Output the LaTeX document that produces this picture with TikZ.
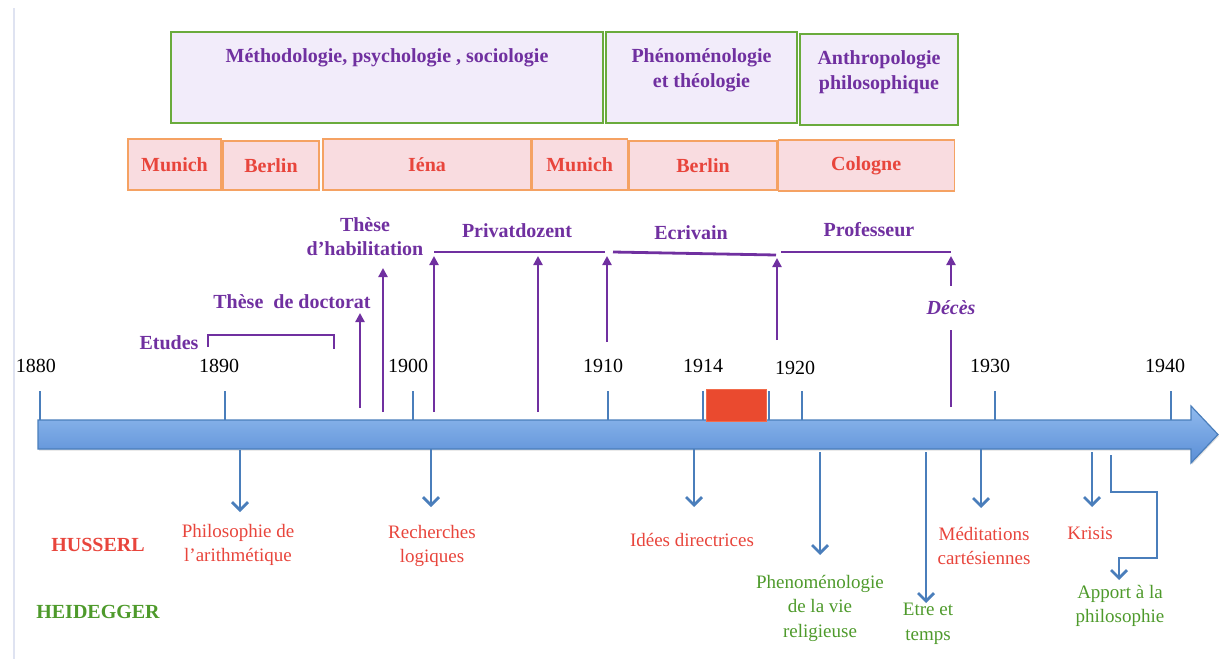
\documentclass[tikz,border=0pt]{standalone}
\usepackage{fontspec}
\setmainfont{Liberation Serif}
\usetikzlibrary{arrows.meta,shadows,positioning}

\definecolor{violetH}{HTML}{7030A0}
\definecolor{rougeH}{HTML}{E8453C}
\definecolor{vertH}{HTML}{4E9A2B}
\definecolor{bleuH}{HTML}{4A7EBB}
\definecolor{bordvert}{HTML}{6AAB3C}
\definecolor{fondvio}{HTML}{F2ECFA}
\definecolor{fondrose}{HTML}{F9DCE0}
\definecolor{bordorange}{HTML}{F5A263}
\definecolor{barhaut}{HTML}{90BAEE}
\definecolor{barbas}{HTML}{5A8ED6}
\definecolor{guerreH}{HTML}{EA4A2F}

\begin{document}
\begin{tikzpicture}[x=1pt,y=-1pt,
theme/.style={draw=bordvert, line width=1.5pt, fill=fondvio, inner sep=0pt, minimum height=91pt},
sujet/.style={anchor=north, yshift=-17pt, inner sep=0pt, align=center, text=violetH, font=\fontsize{20}{25}\selectfont\bfseries},
ville/.style={draw=bordorange, line width=1.2pt, fill=fondrose, inner sep=0pt, text=rougeH, font=\fontsize{20}{24}\selectfont\bfseries},
annee/.style={font=\fontsize{20}{24}\selectfont},
etape/.style={text=violetH, align=center, font=\fontsize{20}{24}\selectfont\bfseries},
oeuvreH/.style={text=rougeH, align=center, font=\fontsize{19}{24.5}\selectfont},
oeuvreG/.style={text=vertH, align=center, font=\fontsize{19}{24.5}\selectfont},
trait/.style={violetH, line width=2.8pt},
fleche/.style={trait, -{Triangle[length=9pt,width=9pt]}},
descend/.style={bleuH, line width=2.8pt, -{Straight Barb[length=8pt,width=16pt]}}]
\useasboundingbox (0,0) rectangle (1221,659);
\draw[color={rgb,255:red,223;green,227;blue,241}, line width=2.5pt] (14,8) -- (14,659);

% domaines
\node[theme, minimum width=432pt, label={[sujet]north:{Méthodologie, psychologie , sociologie}}] (methodo) at (387,77.5) {};
\node[theme, minimum width=191pt, label={[sujet]north:{Phénoménologie\\et théologie}}] (theo) at (701.5,77.5) {};
\node[theme, minimum width=158pt, label={[sujet]north:{Anthropologie\\philosophique}}] (anthropo) at (879,79.5) {};

% villes
\node[ville, minimum width=93pt, minimum height=51pt] (munich) at (174.5,164.5) {Munich};
\node[ville, minimum width=96pt, minimum height=49pt] (berlin) at (271,165.5) {Berlin};
\node[ville, minimum width=208pt, minimum height=51pt] (iena) at (427,164.5) {Iéna};
\node[ville, minimum width=95pt, minimum height=51pt, right=0pt of iena] (munichb) {Munich};
\node[ville, minimum width=148pt, minimum height=49pt] (berlinb) at (703,165.5) {Berlin};
\node[ville, minimum width=176pt, minimum height=51pt, right=0pt of berlinb] (cologne) {Cologne};

% axe du temps
\foreach \x in {40,225,413,608,703,769,802,995,1171}
  \draw[bleuH, line width=2.5pt] (\x,391) -- (\x,420);
\draw[bleuH, line width=1.2pt, top color=barhaut, bottom color=barbas,
  drop shadow={opacity=0.25, shadow xshift=1pt, shadow yshift=-1.5pt}]
  (38,420) -- (1191,420) -- (1191,406) -- (1218,434.5) -- (1191,463) -- (1191,449) -- (38,449) -- cycle;
\node[draw={rgb,255:red,242;green,107;blue,75}, fill=guerreH, minimum width=60pt, minimum height=32pt, inner sep=0pt] (guerre) at (736,405) {};
\foreach \x/\an in {36/1880,219/1890,408/1900,603/1910,703/1914,990/1930,1165/1940}
  \node[annee] (an\an) at (\x,366) {\an};
\node[annee] (an1920) at (795,368) {1920};

% carriere
\node[etape] (etudes) at (169,343) {Etudes};
\node[etape] (doctorat) at (292,302) {Thèse~ de doctorat};
\node[etape] (habil) at (365,237) {Thèse\\d’habilitation};
\node[etape] (privat) at (517,231) {Privatdozent};
\node[etape] (ecrivain) at (691,233) {Ecrivain};
\node[etape] (prof) at (869,230) {Professeur};
\node[etape, font=\fontsize{20}{24}\selectfont\bfseries\itshape, inner sep=15pt] (deces) at (951,308) {Décès};

\coordinate (e1) at (208,347); \coordinate (e2) at (208,335);
\coordinate (e3) at (334,335); \coordinate (e4) at (334,349);
\draw[trait] (e1) -- (e2) -- (e3) -- (e4);
\coordinate (l1) at (434,252); \coordinate (l2) at (605,252);
\coordinate (l3) at (613,252); \coordinate (l4) at (776,255);
\coordinate (l5) at (781,252); \coordinate (l6) at (951,252);
\draw[trait] (l1) -- (l2);
\draw[trait] (l3) -- (l4);
\draw[trait] (l5) -- (l6);
\foreach \nom/\x/\ya/\yb in {doc/360/408/313, hab/383/412/268, pa/434/412/256, pb/538/412/256, pc/607/342/256, pd/777/340/258}{
  \coordinate (\nom0) at (\x,\ya);
  \coordinate (\nom1) at (\x,\yb);
  \draw[fleche] (\nom0) -- (\nom1);
}
\coordinate (dc0) at (951,407); \coordinate (dc1) at (951,256);
\draw[trait] (dc0) -- (deces);
\draw[fleche] (deces) -- (dc1);

% oeuvres
\node[text=rougeH, font=\fontsize{20}{24}\selectfont\bfseries] (husserl) at (98,545) {HUSSERL};
\node[text=vertH, font=\fontsize{20}{24}\selectfont\bfseries] (heidegger) at (98,612) {HEIDEGGER};
\node[oeuvreH] (philo) at (238,545) {Philosophie de\\l’arithmétique};
\node[oeuvreH] (recherches) at (432,546) {Recherches\\logiques};
\node[oeuvreH] (idees) at (692,540) {Idées directrices};
\node[oeuvreG] (vie) at (820,608) {Phenoménologie\\de la vie\\religieuse};
\node[oeuvreG] (etre) at (928,624) {Etre et\\temps};
\node[oeuvreH] (meditations) at (984,546) {Méditations\\cartésiennes};
\node[oeuvreH] (krisis) at (1090,533) {Krisis};
\node[oeuvreG] (apport) at (1120,606) {Apport à la\\philosophie};

\foreach \nom/\x/\ya/\yb in {phi/240/450/512, rec/431/449/507, ide/694/449/507, rel/820/452/555, tem/926/452/603, med/981/449/508, kri/1092/452/507}{
  \coordinate (\nom0) at (\x,\ya);
  \coordinate (\nom1) at (\x,\yb);
  \draw[descend] (\nom0) -- (\nom1);
}
\coordinate (ap0) at (1111,455); \coordinate (ap1) at (1119,580);
\draw[descend] (ap0) -- ++(0,37) -- ++(46,0) -- ++(0,66) -- ++(-38,0) -- (ap1);
%\draw[descend] (ap0) |- (krisis.east);
\end{tikzpicture}
\end{document}
